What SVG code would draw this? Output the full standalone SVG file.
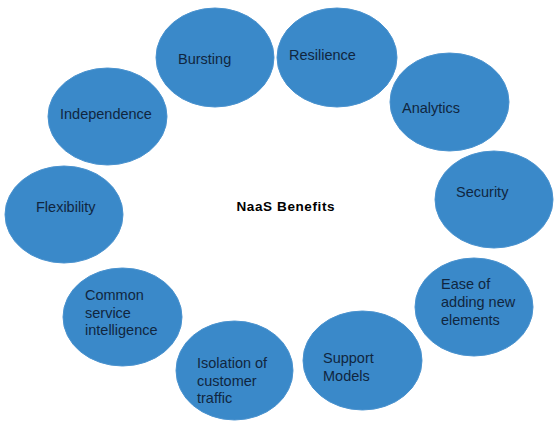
<svg xmlns="http://www.w3.org/2000/svg" width="560" height="426" viewBox="0 0 560 426">
<style>
.b{fill:#3a89c9;stroke:#4b93cf;stroke-width:1}
.t{font-family:"Liberation Sans",Arial,sans-serif;font-size:14.5px;fill:#10263f}
.c{font-family:"Liberation Sans",Arial,sans-serif;font-size:13.5px;font-weight:bold;fill:#000}
</style>
<rect width="560" height="426" fill="#fff"/>
<g id="connectors"/>
<g id="bursting"><ellipse class="b" cx="215" cy="57.5" rx="59" ry="49.5"/><text class="t" x="178" y="64">Bursting</text></g>
<g id="resilience"><ellipse class="b" cx="337" cy="57.5" rx="60" ry="49.5"/><text class="t" x="289" y="60">Resilience</text></g>
<g id="analytics"><ellipse class="b" cx="449.5" cy="102" rx="59.5" ry="49"/><text class="t" x="402" y="113">Analytics</text></g>
<g id="security"><ellipse class="b" cx="494" cy="199.5" rx="59" ry="48.5"/><text class="t" x="456" y="197">Security</text></g>
<g id="ease"><ellipse class="b" cx="474" cy="307" rx="59" ry="49"/><text class="t" x="441" y="289">Ease of</text><text class="t" x="441" y="307">adding new</text><text class="t" x="441" y="325">elements</text></g>
<g id="support"><ellipse class="b" cx="362.5" cy="360.5" rx="59.5" ry="49.5"/><text class="t" x="323" y="363">Support</text><text class="t" x="323" y="380.5">Models</text></g>
<g id="isolation"><ellipse class="b" cx="234.5" cy="370.5" rx="58.5" ry="49.5"/><text class="t" x="197" y="368">Isolation of</text><text class="t" x="197" y="385.5">customer</text><text class="t" x="197" y="403">traffic</text></g>
<g id="common"><ellipse class="b" cx="122.5" cy="317" rx="59.5" ry="49"/><text class="t" x="85" y="300">Common</text><text class="t" x="85" y="317.5">service</text><text class="t" x="85" y="335">intelligence</text></g>
<g id="flexibility"><ellipse class="b" cx="64" cy="214.5" rx="59" ry="48.5"/><text class="t" x="36" y="212">Flexibility</text></g>
<g id="independence"><ellipse class="b" cx="107.5" cy="116.5" rx="59.5" ry="48.5"/><text class="t" x="60" y="119">Independence</text></g>
<g id="center"><text class="c" x="236.5" y="210.5" textLength="98">NaaS Benefits</text></g>
</svg>
